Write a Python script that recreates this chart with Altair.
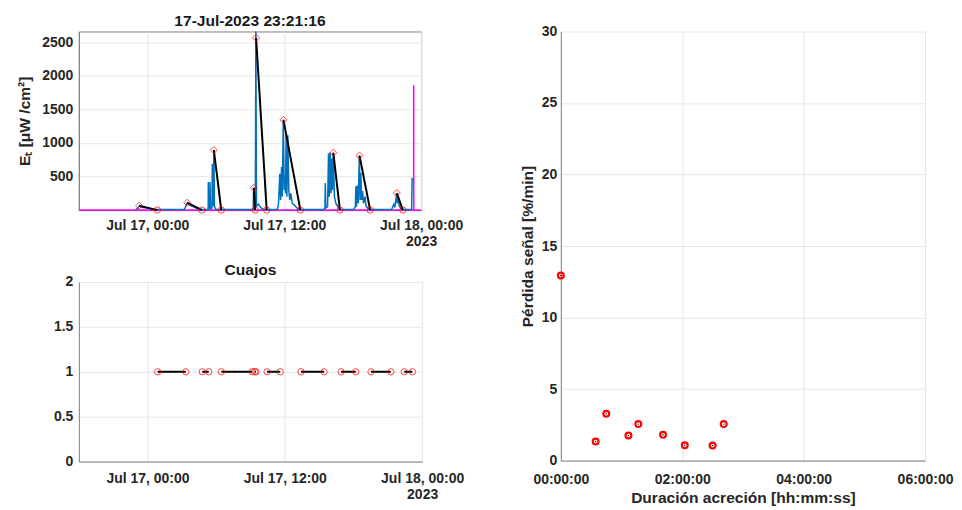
import altair as alt
import pandas as pd

FONT = "Liberation Sans"
TXT = "#262626"

# ---------------- data ----------------
top_title = "17-Jul-2023 23:21:16"
bottom_title = "Cuajos"

sig_time = [
    "2023-07-16T22:59", "2023-07-16T23:10", "2023-07-16T23:17", "2023-07-16T23:36", "2023-07-16T23:57",
    "2023-07-17T00:13", "2023-07-17T00:28", "2023-07-17T00:44",
    "2023-07-17T03:14", "2023-07-17T03:20", "2023-07-17T03:30", "2023-07-17T03:42", "2023-07-17T03:58",
    "2023-07-17T04:14", "2023-07-17T04:30", "2023-07-17T04:45",
    "2023-07-17T05:20", "2023-07-17T05:21", "2023-07-17T05:23", "2023-07-17T05:29", "2023-07-17T05:30",
    "2023-07-17T05:32", "2023-07-17T05:40", "2023-07-17T05:42", "2023-07-17T05:44", "2023-07-17T05:47",
    "2023-07-17T05:50", "2023-07-17T05:53", "2023-07-17T05:58", "2023-07-17T06:05",
    "2023-07-17T09:12", "2023-07-17T09:17", "2023-07-17T09:19", "2023-07-17T09:22", "2023-07-17T09:28",
    "2023-07-17T09:31", "2023-07-17T09:34", "2023-07-17T09:40", "2023-07-17T09:45", "2023-07-17T09:50",
    "2023-07-17T10:00", "2023-07-17T10:15",
    "2023-07-17T11:24", "2023-07-17T11:30", "2023-07-17T11:37", "2023-07-17T11:41", "2023-07-17T11:46",
    "2023-07-17T11:50", "2023-07-17T11:55", "2023-07-17T12:00", "2023-07-17T12:04", "2023-07-17T12:07",
    "2023-07-17T12:10", "2023-07-17T12:14", "2023-07-17T12:19", "2023-07-17T12:24", "2023-07-17T12:29",
    "2023-07-17T12:35", "2023-07-17T12:42", "2023-07-17T12:52", "2023-07-17T13:04", "2023-07-17T13:20",
    "2023-07-17T15:28", "2023-07-17T15:34", "2023-07-17T15:36", "2023-07-17T15:39", "2023-07-17T15:48",
    "2023-07-17T15:53", "2023-07-17T15:57", "2023-07-17T16:02", "2023-07-17T16:06", "2023-07-17T16:10",
    "2023-07-17T16:14", "2023-07-17T16:18", "2023-07-17T16:24", "2023-07-17T16:32", "2023-07-17T16:42",
    "2023-07-17T16:53",
    "2023-07-17T18:05", "2023-07-17T18:14", "2023-07-17T18:17", "2023-07-17T18:20", "2023-07-17T18:25",
    "2023-07-17T18:29", "2023-07-17T18:35", "2023-07-17T18:39", "2023-07-17T18:43", "2023-07-17T18:47",
    "2023-07-17T18:52", "2023-07-17T18:57", "2023-07-17T19:05", "2023-07-17T19:10", "2023-07-17T19:22",
    "2023-07-17T19:32",
    "2023-07-17T21:25", "2023-07-17T21:36", "2023-07-17T21:42", "2023-07-17T21:51", "2023-07-17T21:54",
    "2023-07-17T21:59", "2023-07-17T22:05", "2023-07-17T22:15", "2023-07-17T22:24",
    "2023-07-17T23:10", "2023-07-17T23:13",
]
sig_val = [
    8, 30, 60, 40, 35,
    25, 15, 8,
    8, 40, 105, 75, 55,
    35, 15, 8,
    8, 420, 20, 20, 420,
    20, 30, 690, 60, 80,
    890, 60, 20, 8,
    8, 30, 330, 20, 30,
    2660, 60, 80, 90, 60,
    30, 8,
    8, 100, 540, 150, 640,
    200, 1345, 300, 500, 250,
    1130, 200, 1115, 300, 150,
    250, 100, 80, 40, 8,
    8, 30, 405, 30, 50,
    845, 200, 860, 250, 770,
    300, 845, 200, 100, 50,
    8,
    8, 50, 355, 50, 365,
    100, 810, 150, 555, 150,
    285, 100, 200, 60, 20,
    8,
    8, 86, 40, 245, 100,
    170, 60, 20, 8,
    8, 480,
]

peak_time = ["2023-07-16T23:17", "2023-07-17T03:30", "2023-07-17T05:50", "2023-07-17T09:20",
             "2023-07-17T09:32", "2023-07-17T11:56", "2023-07-17T16:18", "2023-07-17T18:36",
             "2023-07-17T21:52"]
peak_val = [65, 110, 895, 333, 2565, 1344, 855, 811, 254]
end_time = ["2023-07-17T00:53", "2023-07-17T04:47", "2023-07-17T06:29", "2023-07-17T09:27",
            "2023-07-17T10:28", "2023-07-17T13:25", "2023-07-17T16:53", "2023-07-17T19:32",
            "2023-07-17T22:24"]
end_val = [0, 0, 0, 0, 0, 0, 0, 0, 0]

base_time = ["2023-07-16T18:00", "2023-07-18T00:00"]
base_val = [0, 0]
now_time = "2023-07-17T23:21:16"
now_val = 1858

cuajo_start = ["2023-07-17T00:53", "2023-07-17T04:47", "2023-07-17T06:27", "2023-07-17T09:22",
               "2023-07-17T10:27", "2023-07-17T13:25", "2023-07-17T16:55", "2023-07-17T19:32",
               "2023-07-17T22:26"]
cuajo_end = ["2023-07-17T03:21", "2023-07-17T05:21", "2023-07-17T09:09", "2023-07-17T09:29",
             "2023-07-17T11:36", "2023-07-17T15:26", "2023-07-17T18:12", "2023-07-17T21:16",
             "2023-07-17T23:09"]
cuajo_level = [1, 1, 1, 1, 1, 1, 1, 1, 1]

dur_min = [0, 34.4, 44.9, 66.8, 76.6, 101, 122.5, 150, 161]
loss = [12.94, 1.33, 3.27, 1.75, 2.55, 1.80, 1.07, 1.05, 2.55]

# ---------------- tables ----------------
sig_df = pd.DataFrame({"t": sig_time, "v": sig_val})
seg_df = pd.DataFrame({"t1": peak_time, "v1": peak_val, "t2": end_time, "v2": end_val})
peak_df = pd.DataFrame({"t": peak_time, "v": peak_val})
endp_df = pd.DataFrame({"t": end_time, "v": end_val})
base_df = pd.DataFrame({"t": base_time, "v": base_val})
now_df = pd.DataFrame({"t": [now_time], "v0": [0], "v": [now_val]})
cu_df = pd.DataFrame({"t1": cuajo_start, "t2": cuajo_end, "y": cuajo_level})
cu_pts = pd.DataFrame({"t": cuajo_start + cuajo_end, "y": cuajo_level + cuajo_level})
sc_df = pd.DataFrame({"d": dur_min, "p": loss})

# ---------------- shared x ----------------
xdom = [alt.DateTime(year=2023, month=7, date=16, hours=18),
        alt.DateTime(year=2023, month=7, date=18, hours=0)]
xticks = [alt.DateTime(year=2023, month=7, date=17, hours=0),
          alt.DateTime(year=2023, month=7, date=17, hours=12),
          alt.DateTime(year=2023, month=7, date=18, hours=0)]
pad = "\u00a0" * 13
label_expr = ("date(datum.value) == 18 ? [timeFormat(datum.value, '%b %d, %H:%M'), '2023" + pad + "']"
              " : timeFormat(datum.value, '%b %d, %H:%M')")


def xaxis(lp):
    return alt.Axis(values=xticks, labelExpr=label_expr, title=None, labelPadding=lp,
                    labelFlush=False, labelOverlap=False, labelLineHeight=16, grid=True)


xs = alt.Scale(domain=xdom)

# ---------------- top panel ----------------
yt = alt.Y("v:Q", scale=alt.Scale(domain=[0, 2660], nice=False),
           axis=alt.Axis(values=[500, 1000, 1500, 2000, 2500], format="d",
                         title="E\u209c [\u03bcW /cm\u00b2]", titlePadding=9, labelPadding=6))
xt = alt.X("t:T", scale=xs, axis=xaxis(8))

base_line = alt.Chart(base_df).mark_line(color="#FF00FF", strokeWidth=1.5).encode(x=xt, y=yt)
now_rule = alt.Chart(now_df).mark_rule(color="#FF00FF", strokeWidth=1.5).encode(
    x="t:T", y="v0:Q", y2="v:Q")
blue = alt.Chart(sig_df).mark_line(color="#0072BD", strokeWidth=1.5).encode(x="t:T", y="v:Q")
segs = alt.Chart(seg_df).mark_rule(color="black", strokeWidth=2).encode(
    x="t1:T", x2="t2:T", y="v1:Q", y2="v2:Q")
dia = alt.Chart(peak_df).mark_point(shape="diamond", color="#FF0000", size=50, strokeWidth=0.9,
                                    opacity=0.8).encode(x="t:T", y="v:Q")
cir = alt.Chart(endp_df).mark_point(shape="circle", color="#FF0000", size=40, strokeWidth=0.9,
                                    opacity=0.8).encode(x="t:T", y="v:Q")

top = alt.layer(base_line, now_rule, blue, segs, dia, cir).properties(
    width=343, height=179,
    title=alt.TitleParams(top_title, fontSize=15.6, offset=-1),
    view=alt.ViewBackground(stroke="#808080", strokeWidth=1),
)

# ---------------- bottom panel ----------------
xb = alt.X("t1:T", scale=xs, axis=xaxis(10))
yb = alt.Y("y:Q", scale=alt.Scale(domain=[0, 2], nice=False),
           axis=alt.Axis(values=[0, 0.5, 1, 1.5, 2], format="~g", title=None, labelPadding=6))
cu_line = alt.Chart(cu_df).mark_rule(color="black", strokeWidth=2).encode(x=xb, x2="t2:T", y=yb)
cu_cir = alt.Chart(cu_pts).mark_point(shape="circle", color="#FF0000", size=40, strokeWidth=0.9,
                                      opacity=0.8).encode(x="t:T", y="y:Q")
bottom = alt.layer(cu_line, cu_cir).properties(
    width=344, height=180,
    title=alt.TitleParams(bottom_title, fontSize=15.6, offset=-4),
)

# ---------------- right panel ----------------
xr = alt.X("d:Q", scale=alt.Scale(domain=[0, 360], nice=False),
           axis=alt.Axis(values=[0, 120, 240, 360], title="Duración acreción [hh:mm:ss]",
                         labelExpr="format(floor(datum.value/60), '02d') + ':' + format(datum.value % 60, '02d') + ':00'",
                         labelPadding=12, titlePadding=4, labelFlush=False, labelOverlap=False))
yr = alt.Y("p:Q", scale=alt.Scale(domain=[0, 30], nice=False),
           axis=alt.Axis(values=[0, 5, 10, 15, 20, 25, 30], title="Pérdida señal [%/min]",
                         labelPadding=4, titlePadding=6))
sc_ring = alt.Chart(sc_df).mark_point(shape="circle", color="#FF0000", size=34, strokeWidth=2.2,
                                      opacity=1).encode(x=xr, y=yr)
sc_dot = alt.Chart(sc_df).mark_point(shape="circle", filled=True, color="black", size=2,
                                     opacity=1).encode(x="d:Q", y="p:Q")
right = alt.layer(sc_ring, sc_dot).properties(width=365, height=430)

left = alt.vconcat(top, bottom, spacing=14)
chart = alt.hconcat(left, right, spacing=56).properties(
    padding={"left": 9, "top": 4, "right": 0, "bottom": 0}
).configure(
    font=FONT,
).configure_view(
    strokeWidth=0,
).configure_axis(
    labelFont=FONT, labelFontSize=14, labelFontWeight="bold", labelColor=TXT,
    titleFont=FONT, titleFontSize=15.6, titleFontWeight="bold", titleColor=TXT,
    domainColor="#808080", domainWidth=1, ticks=False,
    gridColor="#e6e6e6", gridWidth=1,
).configure_title(
    font=FONT, fontSize=15.6, fontWeight="bold", color="#1a1a1a", anchor="middle",
)

chart.save("out.html", embed_options={"renderer": "svg", "actions": False})
